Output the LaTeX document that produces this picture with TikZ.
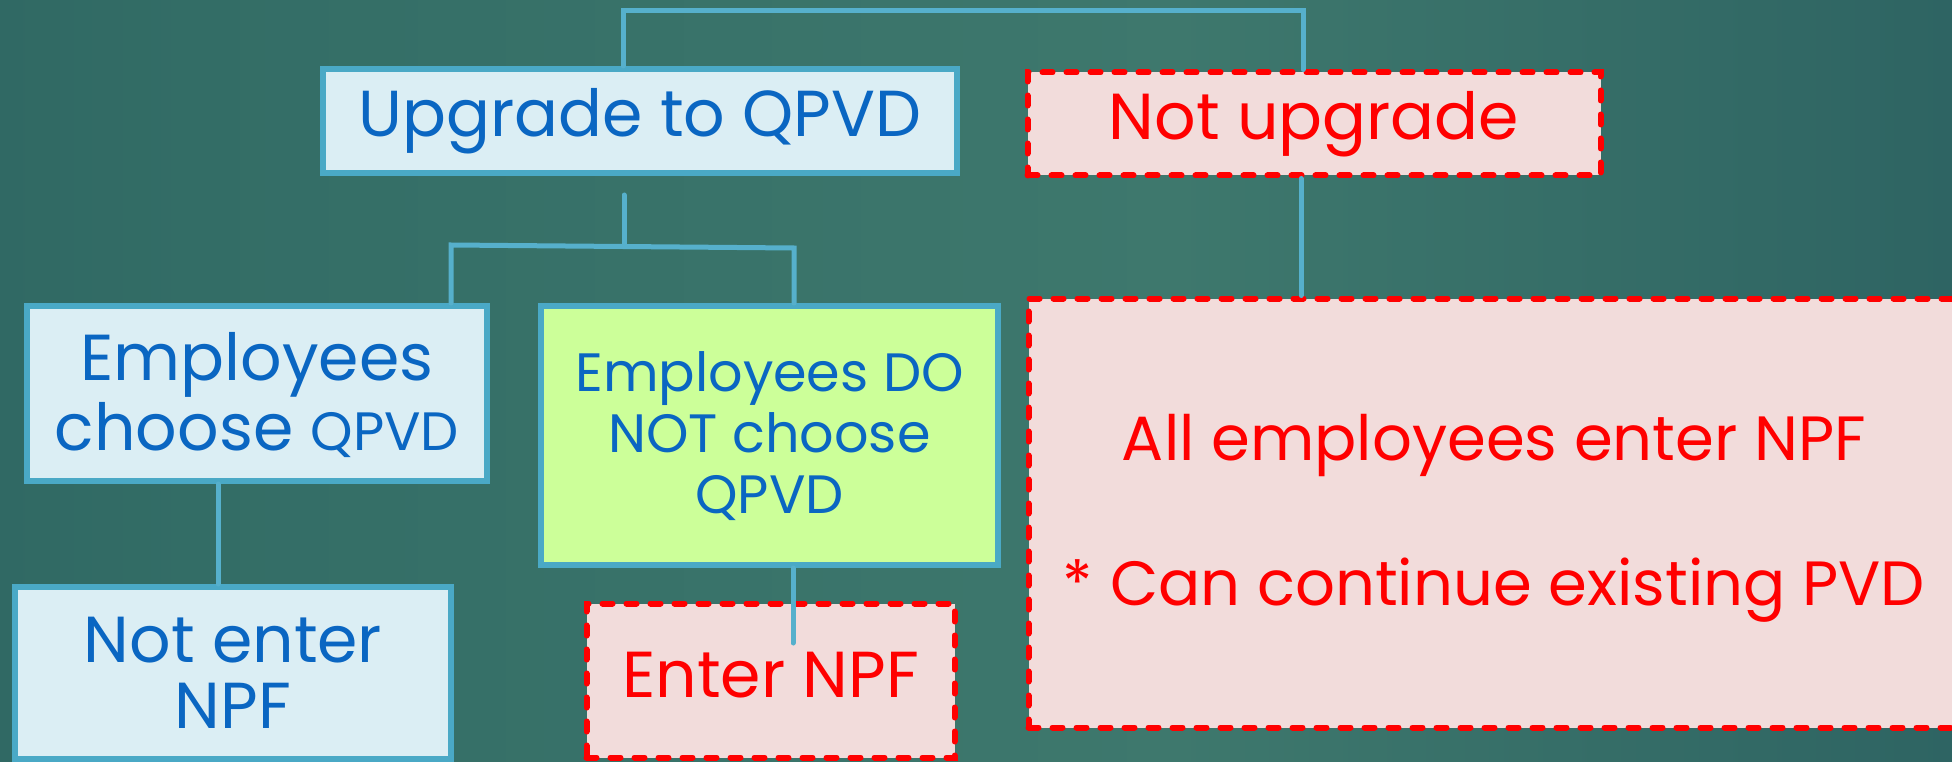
\documentclass[tikz,border=0pt]{standalone}
\usepackage{fontspec}
\setmainfont{Poppins}
\definecolor{bgL}{HTML}{225559}
\definecolor{bgML}{HTML}{336D66}
\definecolor{bgC}{HTML}{3E786D}
\definecolor{bgMR}{HTML}{2A5F60}
\definecolor{bgR}{HTML}{1A4656}
\definecolor{linkblue}{HTML}{56B0CC}
\definecolor{boxblue}{HTML}{4AA9C6}
\definecolor{paleblue}{HTML}{DBEEF4}
\definecolor{palegreen}{HTML}{CCFF99}
\definecolor{palepink}{HTML}{F2DCDB}
\definecolor{txtblue}{HTML}{0A66C2}
\definecolor{alertred}{HTML}{FF0000}
\pgfdeclarehorizontalshading{slidebg}{100bp}{color(0bp)=(bgL); color(30bp)=(bgML); color(55bp)=(bgC); color(80bp)=(bgMR); color(100bp)=(bgR)}
\begin{document}
\begin{tikzpicture}[x=1pt,y=-1pt,
  link/.style={draw=linkblue, line width=5pt, line cap=round},
  bluebox/.style={draw=boxblue, line width=6pt, fill=paleblue, inner sep=0pt},
  greenbox/.style={bluebox, fill=palegreen},
  redbox/.style={draw=alertred, line width=6pt, fill=palepink, dash pattern=on 10pt off 14pt, line cap=round, inner sep=0pt},
  bluetxt/.style={text=txtblue, anchor=base, inner sep=0pt, align=center},
  redtxt/.style={text=alertred, anchor=base, inner sep=0pt, align=center},
  bigfont/.style={font=\fontsize{65}{70}\selectfont},
  widefont/.style={font=\fontsize{62.5}{70}\selectfont},
  smallfont/.style={font=\fontsize{54}{61}\selectfont}]
\useasboundingbox (0,0) rectangle (1952,762);
\clip (0,0) rectangle (1952,762);
\shade[shading=slidebg] (0,0) rectangle (1952,762);

% boxes
\node[bluebox, minimum width=634pt, minimum height=104pt] (up) at (640,121) {};
\node[redbox, minimum width=573pt, minimum height=103pt] (notup) at (1314,124) {};
\node[bluebox, minimum width=460pt, minimum height=175pt] (emp) at (257,393.5) {};
\node[greenbox, minimum width=457pt, minimum height=259pt] (nochoose) at (769.5,435.5) {};
\node[bluebox, minimum width=436pt, minimum height=172pt] (notenter) at (233,673) {};
\node[redbox, minimum width=368pt, minimum height=154pt] (enter) at (770.5,680.5) {};
\node[redbox, minimum width=931pt, minimum height=429pt] (all) at (1494,513) {};

% texts (multi-line nodes are anchored at the baseline of their last line)
\node[bluetxt, bigfont] (upT) at (640,137) {Upgrade to QPVD};
\node[redtxt, bigfont] (notupT) at (1314,140) {Not upgrade};
\node[bluetxt, font=\fontsize{65}{70}\selectfont] (empT) at (257,450) {Employees\\choose {\fontsize{54}{60}\selectfont QPVD}};
\node[bluetxt, smallfont] (nochooseT) at (769.5,513) {Employees DO\\NOT choose\\QPVD};
\node[bluetxt, font=\fontsize{65}{66}\selectfont] (notenterT) at (233,728) {Not enter\\NPF};
\node[redtxt, bigfont] (enterT) at (770.5,697) {Enter NPF};
\node[redtxt, widefont] (allT) at (1494,460) {All employees enter NPF};
\node[redtxt, widefont] (pvdT) at (1494,605) {* Can continue existing PVD};

% connectors
\coordinate (topL) at (623,11);
\coordinate (topR) at (1303,11);
\draw[link] (up.north -| topL) -- (topL) -- (topR) -- (notup.north -| topR);
\coordinate (forkTop) at (624,195);
\coordinate (forkMid) at (624,246.5);
\coordinate (forkL) at (451,245);
\coordinate (forkR) at (794,248);
\draw[link] (forkTop) -- (forkMid);
\draw[link] (emp.north -| forkL) -- (forkL) -- (forkR) -- (nochoose.north -| forkR);
\coordinate (empDrop) at (218,484);
\draw[link] (emp.south -| empDrop) -- (notenter.north -| empDrop);
\coordinate (enterEnd) at (793,643);
\draw[link] (nochoose.south -| enterEnd) -- (enterEnd);
\coordinate (allDrop) at (1301,178);
\draw[link] (notup.south -| allDrop) -- (all.north -| allDrop);
\end{tikzpicture}
\end{document}
